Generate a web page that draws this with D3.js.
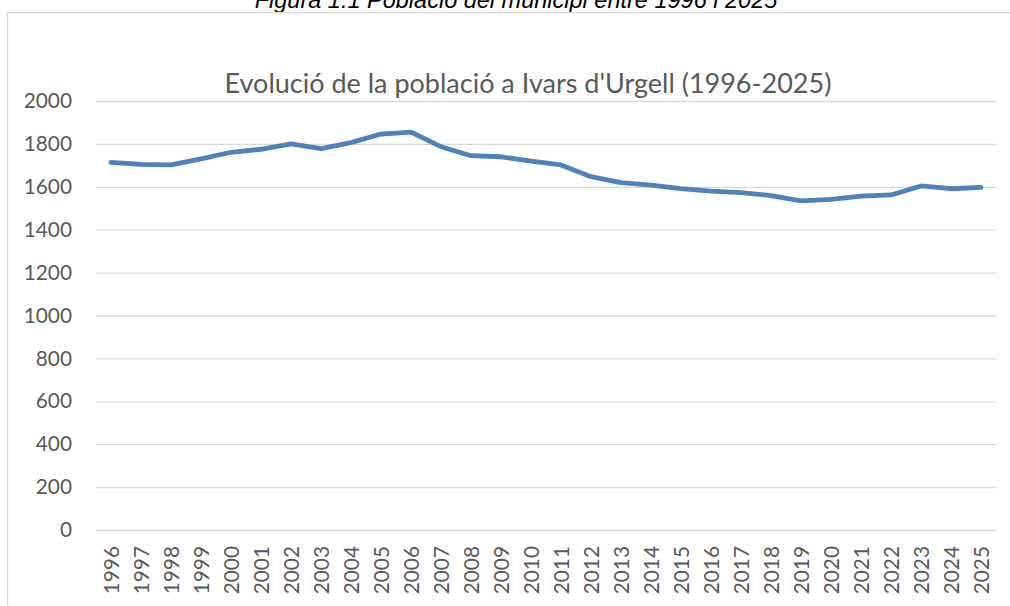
<!DOCTYPE html>
<html>
<head>
<meta charset="utf-8">
<script src="https://cdn.jsdelivr.net/npm/d3@7"></script>
<style>
  html, body { margin: 0; padding: 0; background: #fff; }
  svg { display: block; }
</style>
</head>
<body>
<svg id="chart" width="1010" height="606"></svg>
<script>
// Població d'Ivars d'Urgell, 1996-2025
const years = [1996, 1997, 1998, 1999, 2000, 2001, 2002, 2003, 2004, 2005,
               2006, 2007, 2008, 2009, 2010, 2011, 2012, 2013, 2014, 2015,
               2016, 2017, 2018, 2019, 2020, 2021, 2022, 2023, 2024, 2025];
const population = [1714, 1705, 1702, 1730, 1761, 1775, 1800, 1778, 1806, 1846,
                     1855, 1787, 1745, 1740, 1720, 1702, 1647, 1619, 1608, 1591,
                     1580, 1573, 1559, 1534, 1541, 1557, 1562, 1604, 1591, 1597];
const yTicks = [0, 200, 400, 600, 800, 1000, 1200, 1400, 1600, 1800, 2000];

const captionText = "Figura 1.1 Població del municipi entre 1996 i 2025";
const titleText = "Evolució de la població a Ivars d'Urgell (1996-2025)";

const svg = d3.select("#chart");
const fontFamily = "Lato, 'Open Sans', sans-serif";
const textColor = "#595959";
const gridColor = "#d9d9d9";

// Caption above the chart frame
svg.append("text")
  .attr("x", 516).attr("y", 8)
  .attr("text-anchor", "middle")
  .style("font-family", "'Liberation Sans', Arial, sans-serif")
  .style("font-style", "italic")
  .style("font-size", "23.5px")
  .attr("fill", "#000")
  .text(captionText);

// Chart frame
svg.append("rect")
  .attr("x", 7.5).attr("y", 12.5)
  .attr("width", 1100).attr("height", 700)
  .attr("fill", "#fff")
  .attr("stroke", gridColor)
  .attr("stroke-width", 1.3);

const plot = { left: 96, right: 996, top: 101, bottom: 530 };

const x = d3.scalePoint()
  .domain(years)
  .range([plot.left, plot.right])
  .padding(0.5);

const y = d3.scaleLinear()
  .domain([0, 2000])
  .range([plot.bottom, plot.top]);

// Horizontal gridlines + value labels
const yAxis = d3.axisLeft(y)
  .tickValues(yTicks)
  .tickSize(-(plot.right - plot.left))
  .tickPadding(24)
  .tickFormat(d3.format("d"));

const gy = svg.append("g")
  .attr("transform", `translate(${plot.left},0)`)
  .call(yAxis);
gy.select(".domain").remove();
gy.selectAll(".tick line")
  .attr("stroke", gridColor)
  .attr("stroke-width", 1.3);
gy.selectAll(".tick text")
  .attr("fill", textColor)
  .style("font-family", fontFamily)
  .style("font-size", "20.8px");

// Year labels, rotated
const xAxis = d3.axisBottom(x).tickSize(0).tickPadding(0);
const gx = svg.append("g")
  .attr("transform", `translate(0,${plot.bottom})`)
  .call(xAxis);
gx.select(".domain").remove();
gx.selectAll(".tick text")
  .attr("fill", textColor)
  .style("font-family", fontFamily)
  .style("font-size", "20.8px")
  .attr("text-anchor", "end")
  .attr("dy", "0.35em")
  .attr("transform", "translate(0,16) rotate(-90)");

// Title
svg.append("text")
  .attr("x", 528).attr("y", 93)
  .attr("text-anchor", "middle")
  .attr("fill", textColor)
  .style("font-family", fontFamily)
  .style("font-size", "27px")
  .text(titleText);

// Population line
const line = d3.line()
  .x((d, i) => x(years[i]))
  .y(d => y(d));

svg.append("path")
  .datum(population)
  .attr("fill", "none")
  .attr("stroke", "#4f81bd")
  .attr("stroke-width", 4.8)
  .attr("stroke-linejoin", "round")
  .attr("stroke-linecap", "round")
  .attr("d", line);
</script>
</body>
</html>
